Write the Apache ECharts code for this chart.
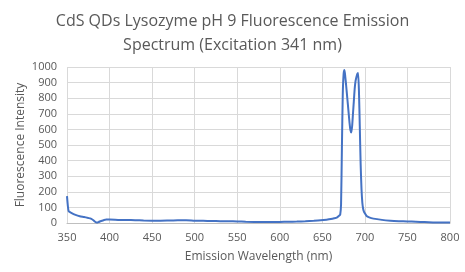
<!DOCTYPE html>
<html>
<head>
<meta charset="utf-8">
<script src="https://cdn.jsdelivr.net/npm/echarts@6/dist/echarts.min.js"></script>
<style>html,body{margin:0;padding:0;background:#fff;}#c{width:465px;height:272px;}</style>
</head>
<body>
<div id="c"></div>
<script>
var titleText = "CdS QDs Lysozyme pH 9 Fluorescence Emission\nSpectrum (Excitation 341 nm)";
var xName = "Emission Wavelength (nm)";
var yName = "Fluorescence Intensity";
var wavelengths = [350,351,352,355,360,365,370,375,378,381,383,385,387,390,393,396,400,410,420,430,440,450,460,470,480,490,500,510,520,530,540,550,560,570,580,590,600,610,620,630,640,648,655,660,664,667,670,671,672,673,674,675,676,677,678,679,680,681,682,683,684,685,686,687,688,689,690,691,692,693,694,695,696,697,698,699,700,702,705,710,720,730,740,750,760,770,780,790,800];
var intensity = [172,110,75,65,52,43,38,32,28,18,8,3,6,13,18,22,22,20,19,18,16,15,15,16,17,18,15,14,13,12,11,10,8,7,7,6,7,8,9,11,14,17,21,25,30,35,48,54,120,480,824,955,980,935,880,820,760,700,640,595,580,620,700,780,860,910,935,955,962,850,620,380,220,130,90,72,62,45,36,28,20,15,12,10,8,6,4,3,4];
var data = wavelengths.map(function(w,i){return [w,intensity[i]];});
var chart = echarts.init(document.getElementById('c'));
var txt = '#595959';
var font = 'Open Sans';
chart.setOption({
  animation:false,
  title:{text:titleText,left:'center',top:4,textStyle:{fontFamily:font,fontSize:16,fontWeight:'normal',color:txt,lineHeight:24}},
  grid:{left:67,right:15,top:67,bottom:49},
  xAxis:{type:'value',min:350,max:800,interval:50,name:xName,nameLocation:'middle',nameGap:28,
    nameTextStyle:{fontFamily:font,fontSize:12,color:txt},
    axisLine:{show:true,lineStyle:{color:'#bfbfbf'}},axisTick:{show:false},
    axisLabel:{fontFamily:font,fontSize:11,color:txt,margin:9},
    splitLine:{show:true,lineStyle:{color:'#d9d9d9'}}},
  yAxis:{type:'value',min:0,max:1000,interval:100,name:yName,nameLocation:'middle',nameGap:40,nameMoveOverlap:false,
    nameTextStyle:{fontFamily:font,fontSize:12,color:txt},
    axisLine:{show:false},axisTick:{show:false},
    axisLabel:{fontFamily:font,fontSize:11,color:txt,margin:10,formatter:function(v){return String(v);}},
    splitLine:{show:true,lineStyle:{color:'#d9d9d9'}}},
  series:[{type:'line',data:data,showSymbol:false,smooth:0.2,lineStyle:{color:'#4472c4',width:2},itemStyle:{color:'#4472c4'}}]
});
</script>
</body>
</html>
